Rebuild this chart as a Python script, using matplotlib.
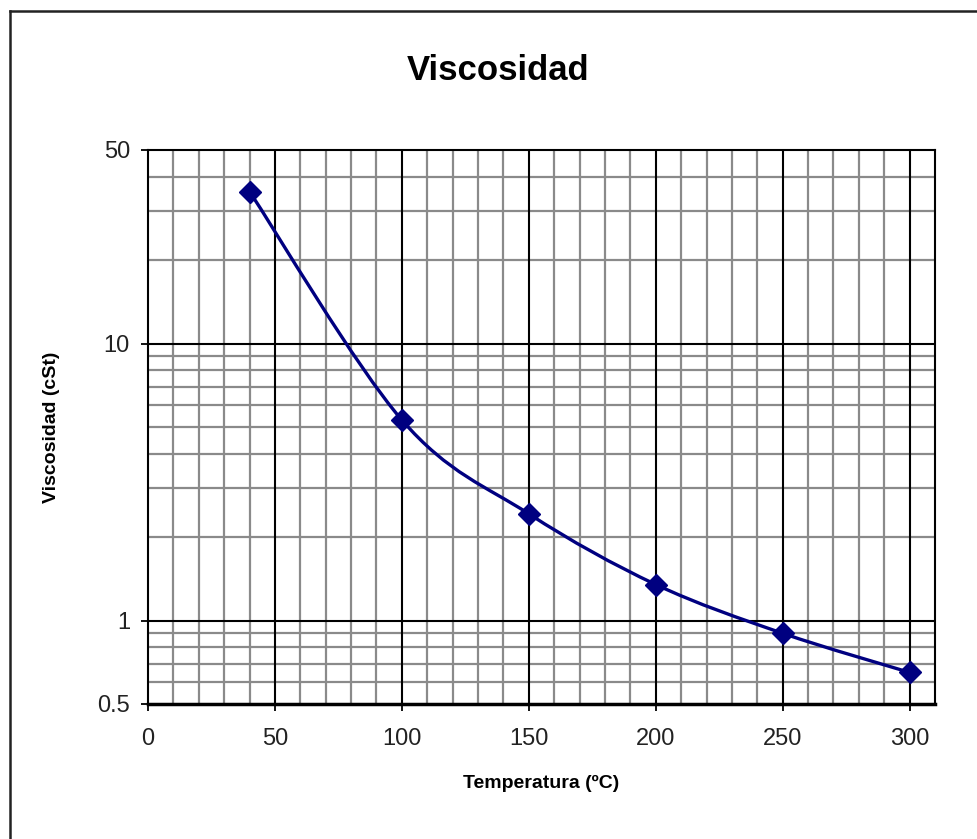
import numpy as np
import matplotlib
matplotlib.use("Agg")
import matplotlib.pyplot as plt
from matplotlib.path import Path
from matplotlib.patches import PathPatch
from matplotlib.lines import Line2D
from matplotlib.ticker import FixedLocator, NullFormatter

temperatura = [40, 100, 150, 200, 250, 300]
viscosidad = [35.4, 5.3, 2.43, 1.35, 0.9, 0.65]

x_ticks = [0, 50, 100, 150, 200, 250, 300]
y_ticks = [0.5, 1, 10, 50]
y_tick_labels = ["0.5", "1", "10", "50"]

plt.rcParams['font.family'] = ['Liberation Sans', 'DejaVu Sans']

fig = plt.figure(figsize=(9.77, 8.39), dpi=100)
ax = fig.add_axes([148 / 977, 1 - 704 / 839, (935 - 148) / 977, (704 - 150) / 839])

ax.set_yscale('log')
ax.set_xlim(0, 310)
ax.set_ylim(0.5, 50)

# grid lines: grey minor, black major
minor_x = [v for v in range(10, 310, 10) if v % 50 != 0]
minor_y = [0.6, 0.7, 0.8, 0.9] + list(range(2, 10)) + [20, 30, 40]
for v in minor_x:
    ax.axvline(v, color='#8a8a8a', lw=1.6, zorder=1)
for v in minor_y:
    ax.axhline(v, color='#8a8a8a', lw=1.6, zorder=1)
for v in x_ticks[1:]:
    ax.axvline(v, color='black', lw=1.5, zorder=1.5)
for v in [1, 10]:
    ax.axhline(v, color='black', lw=1.5, zorder=1.5)

# smoothed line (Catmull-Rom style bezier, like Excel smoothing)
lx = np.array(temperatura, dtype=float)
ly = np.log10(viscosidad)
n = len(lx)
verts = [(lx[0], 10 ** ly[0])]
codes = [Path.MOVETO]
for i in range(n - 1):
    p0 = max(i - 1, 0)
    p3 = min(i + 2, n - 1)
    c1x = lx[i] + (lx[i + 1] - lx[p0]) / 6
    c1y = ly[i] + (ly[i + 1] - ly[p0]) / 6
    c2x = lx[i + 1] - (lx[p3] - lx[i]) / 6
    c2y = ly[i + 1] - (ly[p3] - ly[i]) / 6
    verts += [(c1x, 10 ** c1y), (c2x, 10 ** c2y), (lx[i + 1], 10 ** ly[i + 1])]
    codes += [Path.CURVE4, Path.CURVE4, Path.CURVE4]
ax.add_patch(PathPatch(Path(verts, codes), facecolor='none', edgecolor='#000080',
                       lw=2.4, zorder=3))
ax.plot(temperatura, viscosidad, linestyle='none', marker='D', markersize=11,
        color='#000080', zorder=4)

ax.xaxis.set_major_locator(FixedLocator(x_ticks))
ax.yaxis.set_major_locator(FixedLocator(y_ticks))
ax.yaxis.set_minor_locator(FixedLocator([]))
ax.yaxis.set_minor_formatter(NullFormatter())
ax.set_yticklabels(y_tick_labels)
ax.tick_params(axis='both', which='major', direction='out', length=5, width=1.3,
               labelsize=17, labelcolor='#222222')
ax.tick_params(axis='x', pad=12)
ax.tick_params(axis='y', pad=8)

for s in ax.spines.values():
    s.set_linewidth(1.5)
    s.set_color('black')
ax.spines['bottom'].set_linewidth(2.5)

ax.set_xlabel('Temperatura (ºC)', fontsize=14, fontweight='bold', labelpad=18)
ax.set_ylabel('Viscosidad (cSt)', fontsize=14, fontweight='bold', labelpad=27)

fig.text(498 / 977, 1 - 71 / 839, 'Viscosidad', fontsize=25, fontweight='bold',
         ha='center', va='center')

# chart frame (only top and left visible)
fig.add_artist(Line2D([9.5 / 977, 1], [1 - 10.5 / 839, 1 - 10.5 / 839],
                      transform=fig.transFigure, color='#222222', lw=1.8))
fig.add_artist(Line2D([9.5 / 977, 9.5 / 977], [0, 1 - 10.5 / 839],
                      transform=fig.transFigure, color='#222222', lw=1.8))

fig.savefig('out.png', dpi=100)
